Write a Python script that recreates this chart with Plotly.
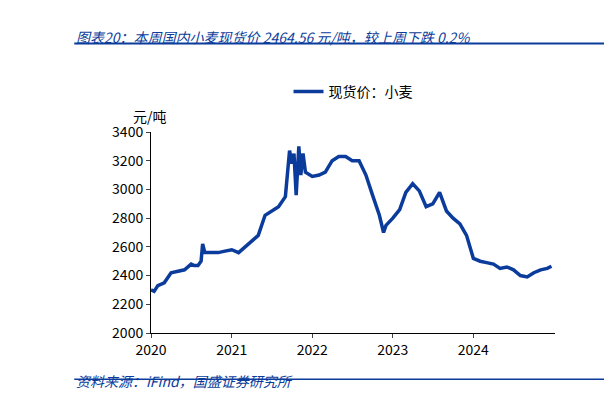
import plotly.graph_objects as go

# 现货价：小麦（元/吨）
dates = ["2020-01-01", "2020-01-15", "2020-02-01", "2020-03-01", "2020-04-01", "2020-05-01",
         "2020-06-01", "2020-07-01", "2020-07-15", "2020-08-01", "2020-08-15", "2020-08-22",
         "2020-09-01", "2020-10-01", "2020-11-01", "2020-12-01", "2021-01-01", "2021-02-01",
         "2021-03-01", "2021-04-01", "2021-05-01", "2021-06-01", "2021-07-01", "2021-08-01",
         "2021-09-01", "2021-09-20", "2021-10-01", "2021-10-10", "2021-10-20", "2021-11-01",
         "2021-11-10", "2021-11-20", "2021-12-01", "2022-01-01", "2022-02-01", "2022-03-01",
         "2022-04-01", "2022-05-01", "2022-06-01", "2022-07-01", "2022-08-01", "2022-09-01",
         "2022-10-01", "2022-11-01", "2022-11-20", "2022-12-01", "2023-01-01", "2023-02-01",
         "2023-03-01", "2023-04-01", "2023-05-01", "2023-06-01", "2023-07-01", "2023-08-01",
         "2023-09-01", "2023-10-01", "2023-11-01", "2023-12-01", "2024-01-01", "2024-02-01",
         "2024-03-01", "2024-04-01", "2024-05-01", "2024-06-01", "2024-07-01", "2024-08-01",
         "2024-09-01", "2024-10-01", "2024-11-01", "2024-12-01", "2024-12-20"]
price = [2300, 2290, 2330, 2350, 2420, 2430,
         2440, 2480, 2470, 2470, 2500, 2620,
         2560, 2560, 2560, 2570, 2580, 2560,
         2600, 2640, 2680, 2820, 2850, 2880,
         2950, 3270, 3180, 3250, 2960, 3300,
         3100, 3250, 3120, 3090, 3100, 3120,
         3200, 3230, 3230, 3200, 3200, 3100,
         2960, 2820, 2700, 2750, 2800, 2860,
         2980, 3040, 2990, 2880, 2900, 2980,
         2850, 2800, 2760, 2680, 2520, 2500,
         2490, 2480, 2450, 2460, 2440, 2400,
         2390, 2420, 2440, 2450, 2465]

blue = "#0B3C9B"
font = "Noto Sans CJK SC"

fig = go.Figure(go.Scatter(x=dates, y=price, mode="lines", name="现货价：小麦",
                           line=dict(color=blue, width=3.5)))

fig.update_layout(
    width=612, height=410,
    paper_bgcolor="white", plot_bgcolor="white",
    font=dict(family=font, size=14, color="black"),
    margin=dict(l=143, r=65, t=124, b=85),
    showlegend=True,
    legend=dict(orientation="h", x=0.5, xanchor="center", y=1.2, yanchor="middle",
                font=dict(size=14)),
    xaxis=dict(range=["2020-01-01", "2025-01-05"], showgrid=False, showline=True,
               linecolor="black", linewidth=1, ticks="outside", ticklen=4,
               tickvals=["2020-01-01", "2021-01-01", "2022-01-01", "2023-01-01", "2024-01-01"],
               ticktext=["2020", "2021", "2022", "2023", "2024"]),
    yaxis=dict(range=[2000, 3400], dtick=200, showgrid=False, showline=True,
               linecolor="black", linewidth=1, ticks="outside", ticklen=4),
)
fig.add_annotation(text="元/吨", x=-0.05, y=1.14, xref="paper", yref="paper",
                   showarrow=False, font=dict(size=14))
fig.add_annotation(text="<i>图表20：本周国内小麦现货价 2464.56 元/吨，较上周下跌 0.2%</i>",
                   xref="paper", yref="paper", x=-0.19, y=1.53, xanchor="left",
                   showarrow=False, font=dict(size=14, color=blue))
fig.add_annotation(text="<i>资料来源：iFind，国盛证券研究所</i>",
                   xref="paper", yref="paper", x=-0.19, y=-0.30, xanchor="left",
                   showarrow=False, font=dict(size=14, color=blue))
fig.add_shape(type="line", xref="paper", yref="paper", x0=-0.19, x1=1.16,
              y0=1.44, y1=1.44, line=dict(color=blue, width=2))
fig.add_shape(type="line", xref="paper", yref="paper", x0=-0.19, x1=1.16,
              y0=-0.23, y1=-0.23, line=dict(color=blue, width=1.5))

fig.write_html("out.html")
